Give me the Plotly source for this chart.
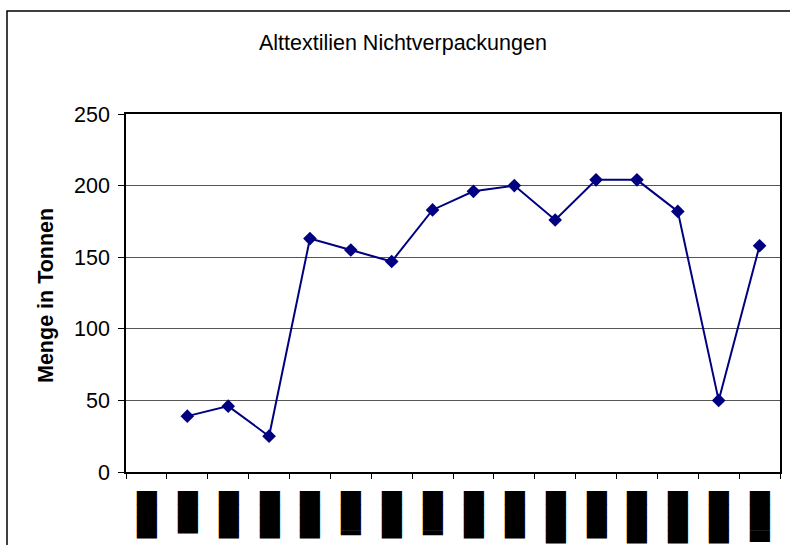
import plotly.graph_objects as go

# Monthly quantities (tonnes); first period has no figure
positions = list(range(1, 17))
tonnen = [None, 39, 46, 25, 163, 155, 147, 183, 196, 200, 176, 204, 204, 182, 50, 158]
# Period labels are blacked out in the published chart
labels = ["███▋", "███▎", "███▋", "███▋", "███▋", "███▍", "███▋", "███▍",
          "███▋", "███▋", "████", "███▋", "████", "████", "████", "███▉"]
y_ticks = [0, 50, 100, 150, 200, 250]

FONT = "Liberation Sans, Arial, sans-serif"
FS = 21.5

fig = go.Figure()
fig.add_trace(go.Scatter(
    x=positions, y=tonnen, mode="lines+markers",
    line=dict(color="#000080", width=2),
    marker=dict(symbol="diamond", size=10.5, color="#000080"),
    connectgaps=False, showlegend=False,
))

fig.update_layout(
    width=790, height=545,
    margin=dict(l=126, r=10, t=114, b=73),
    paper_bgcolor="white", plot_bgcolor="white",
    font=dict(family=FONT, color="black", size=FS),
    title=dict(text="Alttextilien Nichtverpackungen", xref="container", x=0.51,
               xanchor="center", yref="container", y=1 - 42 / 545, yanchor="middle",
               font=dict(family=FONT, size=FS, color="black")),
)

fig.update_xaxes(
    range=[0.5, 16.5], tickmode="array", tickvals=positions, ticktext=labels,
    tickangle=90, tickfont=dict(family="DejaVu Sans", size=17, color="black"),
    ticks="", ticklabelstandoff=14, automargin=False,
    showgrid=False, zeroline=False,
    showline=True, linecolor="black", linewidth=1.5, mirror=True,
    minor=dict(tickvals=[p + 0.5 for p in range(0, 17)], ticks="outside",
               ticklen=5, tickcolor="black", tickwidth=1, showgrid=False),
)
fig.update_yaxes(
    range=[0, 250], tickmode="array", tickvals=y_ticks, automargin=False,
    ticks="outside", ticklen=6, tickcolor="black", tickwidth=1,
    ticklabelstandoff=4, tickfont=dict(family=FONT, size=FS, color="black"),
    showgrid=True, gridcolor="#555555", gridwidth=1.4, zeroline=False,
    showline=True, linecolor="black", linewidth=1.5, mirror=True,
)

fig.add_annotation(
    text="<b>Menge in Tonnen</b>", xref="paper", yref="paper",
    x=(46 - 126) / 654, y=(472 - 296) / 358, xanchor="center", yanchor="middle",
    textangle=-90, showarrow=False, font=dict(family=FONT, size=FS, color="black"),
)

# Chart-area frame
fig.add_shape(type="rect", xref="paper", yref="paper",
              x0=(7 - 126) / 654, x1=(800 - 126) / 654,
              y0=(472 - 560) / 358, y1=(472 - 11) / 358,
              line=dict(color="black", width=1.5), fillcolor="rgba(0,0,0,0)")

fig.write_html("out.html")
